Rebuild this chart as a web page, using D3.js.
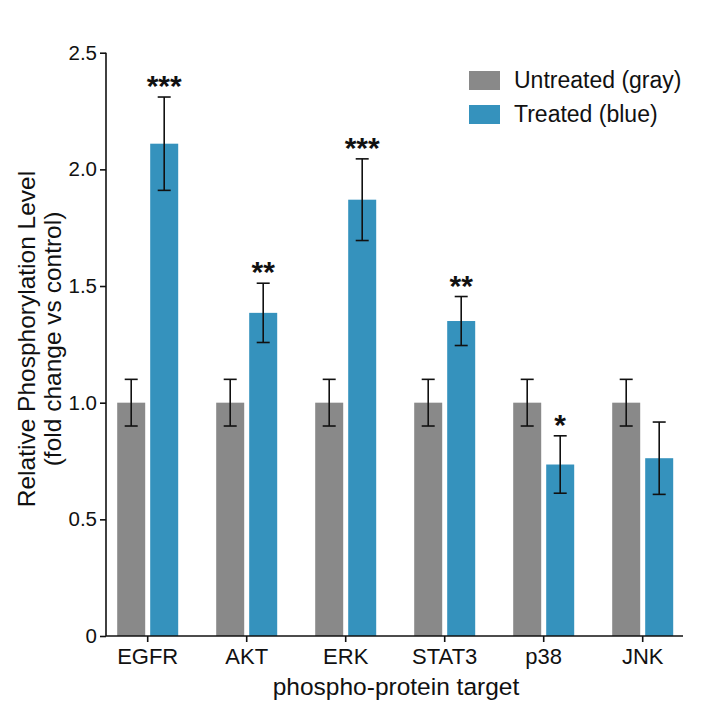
<!DOCTYPE html>
<html>
<head>
<meta charset="utf-8">
<script src="https://cdn.jsdelivr.net/npm/d3@7"></script>
<style>
html,body{margin:0;padding:0;background:#fff;}
svg{display:block;font-family:"Liberation Sans",Arial,Helvetica,sans-serif;}
</style>
</head>
<body>
<svg id="chart" width="717" height="717"></svg>
<script>
const categories = ["EGFR","AKT","ERK","STAT3","p38","JNK"];
const untreated = [1.0,1.0,1.0,1.0,1.0,1.0];
const untreatedErr = [0.1,0.1,0.1,0.1,0.1,0.1];
const treated = [2.11,1.385,1.87,1.35,0.735,0.762];
const treatedErr = [0.2,0.127,0.175,0.105,0.123,0.155];
const significance = ["***","**","***","**","*",""];
const yTicks = [0,0.5,1.0,1.5,2.0,2.5];
const yTickLabels = ["0","0.5","1.0","1.5","2.0","2.5"];
const seriesNames = ["Untreated (gray)","Treated (blue)"];
const colors = ["#898989","#3592bd"];

const svg = d3.select("#chart");
const x = d3.scaleBand().domain(categories).range([98.2, 692.2]);
const y = d3.scaleLinear().domain([0,2.5]).range([636,52.7]);
const barW = 28;

// bars
const g = svg.append("g");
categories.forEach((c,i)=>{
  const cx = x(c) + x.bandwidth()/2;
  g.append("rect").attr("x",cx-30.5).attr("width",barW)
    .attr("y",y(untreated[i])).attr("height",y(0)-y(untreated[i])).attr("fill",colors[0]);
  g.append("rect").attr("x",cx+2.5).attr("width",barW)
    .attr("y",y(treated[i])).attr("height",y(0)-y(treated[i])).attr("fill",colors[1]);
});

// error bars
function errBar(cx, v, e){
  const eg = g.append("g").attr("stroke","#111").attr("stroke-width",1.6);
  eg.append("line").attr("x1",cx).attr("x2",cx).attr("y1",y(v+e)).attr("y2",y(v-e));
  eg.append("line").attr("x1",cx-6.5).attr("x2",cx+6.5).attr("y1",y(v+e)).attr("y2",y(v+e));
  eg.append("line").attr("x1",cx-6.5).attr("x2",cx+6.5).attr("y1",y(v-e)).attr("y2",y(v-e));
}
categories.forEach((c,i)=>{
  const cx = x(c) + x.bandwidth()/2;
  errBar(cx-16.5, untreated[i], untreatedErr[i]);
  errBar(cx+16.5, treated[i], treatedErr[i]);
  if (significance[i]) {
    g.append("text").attr("x",cx+16.5).attr("y",y(treated[i]+treatedErr[i])-1)
      .attr("text-anchor","middle").attr("font-size",30).attr("font-weight","bold").attr("fill","#111")
      .text(significance[i]);
  }
});

// y axis
const yAxis = d3.axisLeft(y).tickValues(yTicks).tickFormat((d,i)=>yTickLabels[i]).tickSize(6).tickPadding(3);
const ya = svg.append("g").attr("transform","translate(106,0)").call(yAxis);
ya.select(".domain").remove();
ya.append("line").attr("x1",0).attr("x2",0).attr("y1",y(2.5)).attr("y2",y(0)).attr("stroke","#111").attr("stroke-width",1.6);
ya.selectAll(".tick line").attr("stroke","#111").attr("stroke-width",1.6);
ya.selectAll(".tick text").attr("font-size",20.5).attr("fill","#111").attr("font-family","Liberation Sans, Arial, sans-serif");

// x axis
const xAxis = d3.axisBottom(x).tickSize(6).tickPadding(6);
const xa = svg.append("g").attr("transform","translate(0,636)").call(xAxis);
xa.select(".domain").remove();
xa.append("line").attr("x1",106).attr("x2",683).attr("y1",0).attr("y2",0).attr("stroke","#111").attr("stroke-width",1.6);
xa.selectAll(".tick line").attr("stroke","#111").attr("stroke-width",1.6);
xa.selectAll(".tick text").attr("font-size",22).attr("fill","#111").attr("font-family","Liberation Sans, Arial, sans-serif");

// axis titles
svg.append("text").attr("x",396).attr("y",695).attr("text-anchor","middle")
  .attr("font-size",24.5).attr("fill","#111").text("phospho-protein target");
const yt = svg.append("text").attr("transform","translate(0,339) rotate(-90)")
  .attr("text-anchor","middle").attr("font-size",24.5).attr("fill","#111");
yt.append("tspan").attr("x",0).attr("y",35).text("Relative Phosphorylation Level");
yt.append("tspan").attr("x",0).attr("y",61).text("(fold change vs control)");

// legend
const lg = svg.append("g");
seriesNames.forEach((s,i)=>{
  lg.append("rect").attr("x",469).attr("y",71+i*34).attr("width",31).attr("height",19).attr("fill",colors[i]);
  lg.append("text").attr("x",514).attr("y",88+i*34).attr("font-size",23).attr("fill","#111").text(s);
});
</script>
</body>
</html>
